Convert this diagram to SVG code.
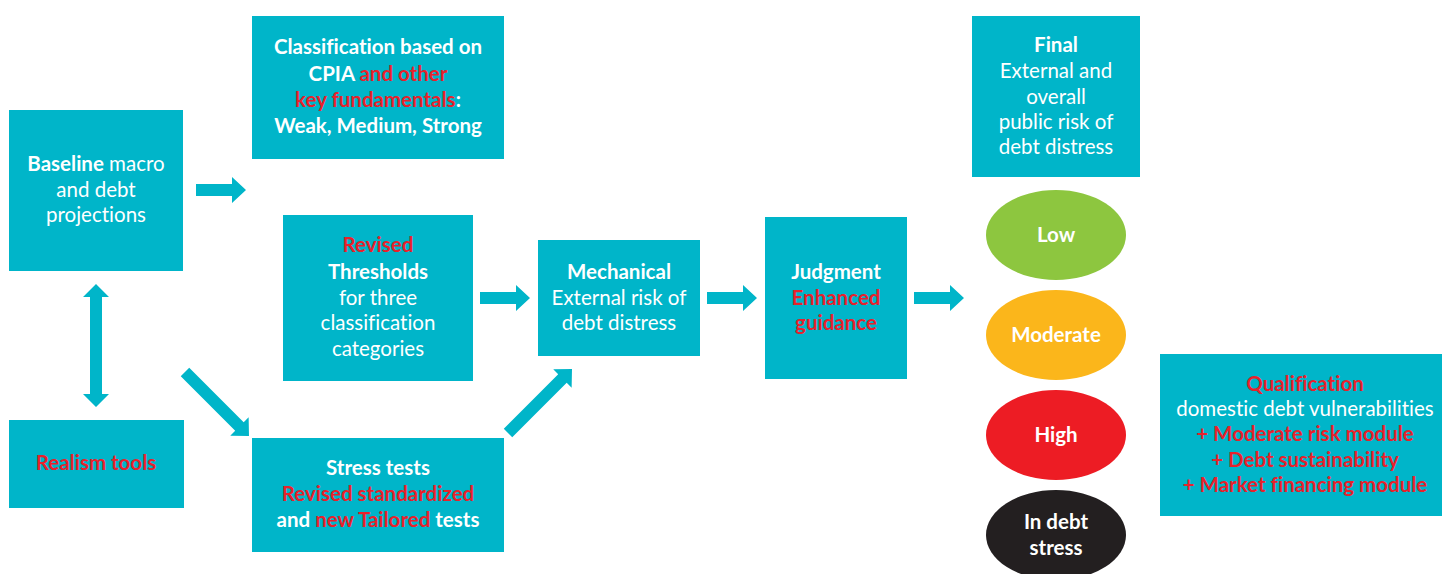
<svg xmlns="http://www.w3.org/2000/svg" width="1442" height="574" viewBox="0 0 1442 574">
<style>
.box{fill:#00B5C9}
.conn{fill:#00B5C9}
text{font-family:Lato,"Open Sans","Liberation Sans",sans-serif;font-size:20.5px;text-anchor:middle;fill:#FFFFFF;font-variant-ligatures:none;font-feature-settings:"liga" 0,"dlig" 0}
.b{font-weight:700}
.n{font-weight:400}
.r{fill:#E8212B;font-weight:700}
</style>
<defs>
<path id="arr50" d="M0,-6 L36,-6 L36,-13 L50,0 L36,13 L36,6 L0,6 Z"/>
<path id="arrDiag" d="M0,-6 L77,-6 L77,-13 L90.5,0 L77,13 L77,6 L0,6 Z"/>
</defs>
<rect width="1442" height="574" fill="#FFFFFF"/>

<g id="connectors">
<use href="#arr50" class="conn" transform="translate(196,190)"/>
<use href="#arr50" class="conn" transform="translate(480,298)"/>
<use href="#arr50" class="conn" transform="translate(707,298)"/>
<use href="#arr50" class="conn" transform="translate(914,298)"/>
<use href="#arrDiag" class="conn" transform="translate(185,372) rotate(45)"/>
<use href="#arrDiag" class="conn" transform="translate(508,433) rotate(-45)"/>
<path class="conn" d="M96,284 L109,297 L102,297 L102,394 L109,394 L96,407 L83,394 L90,394 L90,297 L83,297 Z"/>
</g>

<g id="baseline">
<rect class="box" x="9" y="110" width="174" height="161"/>
<text x="96" y="171"><tspan class="b">Baseline</tspan><tspan class="n"> macro</tspan></text>
<text class="n" x="96" y="197">and debt</text>
<text class="n" x="96" y="222">projections</text>
</g>

<g id="realism">
<rect class="box" x="9" y="420" width="175" height="88"/>
<text class="r" x="96" y="470">Realism tools</text>
</g>

<g id="classification">
<rect class="box" x="252" y="16" width="252" height="143"/>
<text class="b" x="378" y="54">Classification based on</text>
<text x="378" y="81"><tspan class="b">CPIA </tspan><tspan class="r">and other</tspan></text>
<text x="378" y="107"><tspan class="r">key fundamentals</tspan><tspan class="b">:</tspan></text>
<text class="b" x="378" y="133">Weak, Medium, Strong</text>
</g>

<g id="thresholds">
<rect class="box" x="283" y="215" width="190" height="166"/>
<text class="r" x="378" y="252">Revised</text>
<text class="b" x="378" y="279">Thresholds</text>
<text class="n" x="378" y="305">for three</text>
<text class="n" x="378" y="330">classification</text>
<text class="n" x="378" y="356">categories</text>
</g>

<g id="stress">
<rect class="box" x="252" y="438" width="252" height="114"/>
<text class="b" x="378" y="475">Stress tests</text>
<text class="r" x="378" y="501">Revised standardized</text>
<text x="378" y="527"><tspan class="b">and </tspan><tspan class="r">new Tailored</tspan><tspan class="b"> tests</tspan></text>
</g>

<g id="mechanical">
<rect class="box" x="538" y="240" width="162" height="116"/>
<text class="b" x="619" y="279">Mechanical</text>
<text class="n" x="619" y="305">External risk of</text>
<text class="n" x="619" y="330">debt distress</text>
</g>

<g id="judgment">
<rect class="box" x="765" y="217" width="142" height="162"/>
<text class="b" x="836" y="279">Judgment</text>
<text class="r" x="836" y="305">Enhanced</text>
<text class="r" x="836" y="330">guidance</text>
</g>

<g id="final">
<rect class="box" x="972" y="16" width="168" height="161"/>
<text class="b" x="1056" y="52">Final</text>
<text class="n" x="1056" y="78">External and</text>
<text class="n" x="1056" y="104">overall</text>
<text class="n" x="1056" y="129">public risk of</text>
<text class="n" x="1056" y="154">debt distress</text>
</g>

<g id="low">
<ellipse cx="1056" cy="235" rx="70" ry="45" fill="#8DC63F"/>
<text class="b" x="1056" y="242">Low</text>
</g>
<g id="moderate">
<ellipse cx="1056" cy="335" rx="70" ry="45" fill="#FBB61B"/>
<text class="b" x="1056" y="342">Moderate</text>
</g>
<g id="high">
<ellipse cx="1056" cy="435" rx="70" ry="45" fill="#ED1C24"/>
<text class="b" x="1056" y="442">High</text>
</g>
<g id="indebt">
<ellipse cx="1056" cy="535" rx="70" ry="45" fill="#231F20"/>
<text class="b" x="1056" y="529">In debt</text>
<text class="b" x="1056" y="555">stress</text>
</g>

<g id="qualification">
<rect class="box" x="1160" y="354" width="282" height="162"/>
<text class="r" x="1305" y="391">Qualification</text>
<text class="n" x="1305" y="416">domestic debt vulnerabilities</text>
<text class="r" x="1305" y="441">+ Moderate risk module</text>
<text class="r" x="1305" y="467">+ Debt sustainability</text>
<text class="r" x="1305" y="492">+ Market financing module</text>
</g>
</svg>
